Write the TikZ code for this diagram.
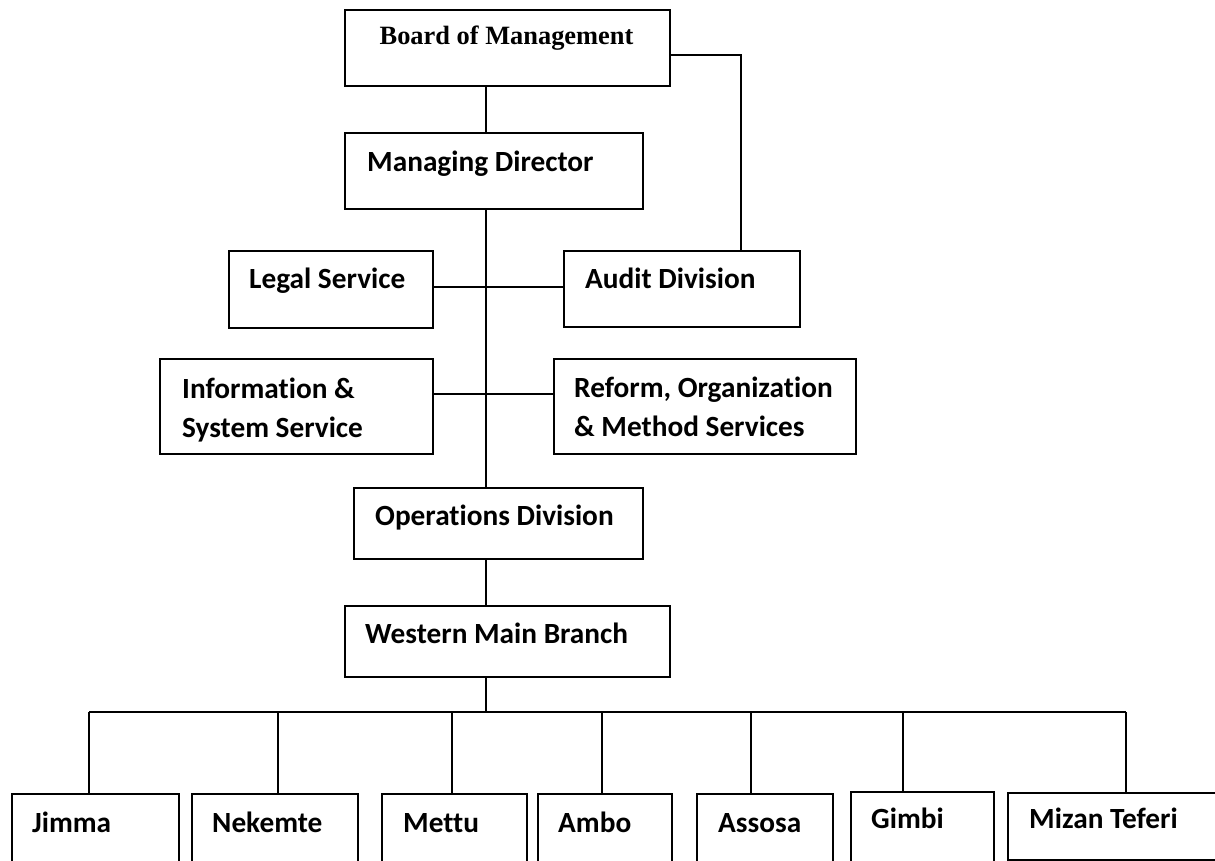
\documentclass[tikz,border=0pt]{standalone}
\usepackage{fontspec}
\setmainfont{Carlito}[Ligatures=NoCommon]
\newfontfamily\boardfont{Liberation Serif}
\usetikzlibrary{calc}

\tikzset{
  orgbox/.style={draw, line width=1.8pt, inner sep=0pt, anchor=north west},
  lbl/.style={inner sep=0pt, anchor=base west, align=left,
              font=\bfseries\fontsize{29.3}{39}\selectfont},
  toplbl/.style={inner sep=0pt, anchor=base,
              font=\boardfont\bfseries\fontsize{26.4}{32}\selectfont},
  link/.style={line width=1.6pt},
}

\begin{document}
\begin{tikzpicture}[x=1pt, y=-1pt]
\useasboundingbox (0,0) rectangle (1215,861);
\clip (0,0) rectangle (1215,861);

% ---- boxes ----
\node[orgbox, minimum width=325pt, minimum height=76pt] (board)   at (344,9)   {};
\node[orgbox, minimum width=298pt, minimum height=76pt] (mgr)     at (344,132) {};
\node[orgbox, minimum width=204pt, minimum height=77pt] (legal)   at (228,250) {};
\node[orgbox, minimum width=236pt, minimum height=76pt] (audit)   at (563,250) {};
\node[orgbox, minimum width=273pt, minimum height=95pt] (info)    at (159,358) {};
\node[orgbox, minimum width=302pt, minimum height=95pt] (reform)  at (553,358) {};
\node[orgbox, minimum width=289pt, minimum height=71pt] (ops)     at (353,487) {};
\node[orgbox, minimum width=325pt, minimum height=71pt] (west)    at (344,605) {};
\node[orgbox, minimum width=167pt, minimum height=90pt] (jimma)   at (11,793)  {};
\node[orgbox, minimum width=166pt, minimum height=90pt] (nekemte) at (191,793) {};
\node[orgbox, minimum width=145pt, minimum height=90pt] (mettu)   at (381,793) {};
\node[orgbox, minimum width=134pt, minimum height=90pt] (ambo)    at (537,793) {};
\node[orgbox, minimum width=136pt, minimum height=90pt] (assosa)  at (696,793) {};
\node[orgbox, minimum width=143pt, minimum height=92pt] (gimbi)   at (850,791) {};
\node[orgbox, minimum width=230pt, minimum height=67pt] (mizan)   at (1007,792) {};

% ---- labels (two-line labels are placed by their last baseline) ----
\node[toplbl] (board-t)   at (506.5,45) {Board of Management};
\node[lbl] (mgr-t)     at (367,172) {Managing Director};
\node[lbl] (legal-t)   at (249,288) {Legal Service};
\node[lbl] (audit-t)   at (585,288) {Audit Division};
\node[lbl] (info-t)    at (182,437) {Information \&\\System Service};
\node[lbl] (reform-t)  at (574,436) {Reform, Organization\\\& Method Services};
\node[lbl] (ops-t)     at (375,525) {Operations Division};
\node[lbl] (west-t)    at (365,643) {Western Main Branch};
\node[lbl] (jimma-t)   at (32,832)  {Jimma};
\node[lbl] (nekemte-t) at (212,832) {Nekemte};
\node[lbl] (mettu-t)   at (403,832) {Mettu};
\node[lbl] (ambo-t)    at (558,832) {Ambo};
\node[lbl] (assosa-t)  at (718,832) {Assosa};
\node[lbl] (gimbi-t)   at (871,828) {Gimbi};
\node[lbl] (mizan-t)   at (1029,828) {Mizan Teferi};

% ---- connector guide points ----
\coordinate (tx)  at (486,0);
\coordinate (aud) at (741,55);
\coordinate (r1)  at (0,287);
\coordinate (r2)  at (0,394);
\coordinate (d1)  at (89,712);
\coordinate (d2)  at (278,712);
\coordinate (d3)  at (452,712);
\coordinate (d4)  at (602,712);
\coordinate (d5)  at (751,712);
\coordinate (d6)  at (903,712);
\coordinate (d7)  at (1126,712);

% ---- main trunk ----
\draw[link] (board.south -| tx) -- (mgr.north -| tx);
\draw[link] (mgr.south -| tx) -- (ops.north -| tx);
\draw[link] (ops.south -| tx) -- (west.north -| tx);
\draw[link] (west.south -| tx) -- (d1 -| tx);

% ---- board to audit ----
\draw[link] (board.east |- aud) -- (aud) -- (aud |- audit.north);

% ---- staff units ----
\draw[link] (legal.east |- r1) -- (audit.west |- r1);
\draw[link] (info.east |- r2) -- (reform.west |- r2);

% ---- branch bus ----
\draw[link] (d1) -- (d7);
\draw[link] (d1) -- (d1 |- jimma.north);
\draw[link] (d2) -- (d2 |- nekemte.north);
\draw[link] (d3) -- (d3 |- mettu.north);
\draw[link] (d4) -- (d4 |- ambo.north);
\draw[link] (d5) -- (d5 |- assosa.north);
\draw[link] (d6) -- (d6 |- gimbi.north);
\draw[link] (d7) -- (d7 |- mizan.north);
\end{tikzpicture}
\end{document}
